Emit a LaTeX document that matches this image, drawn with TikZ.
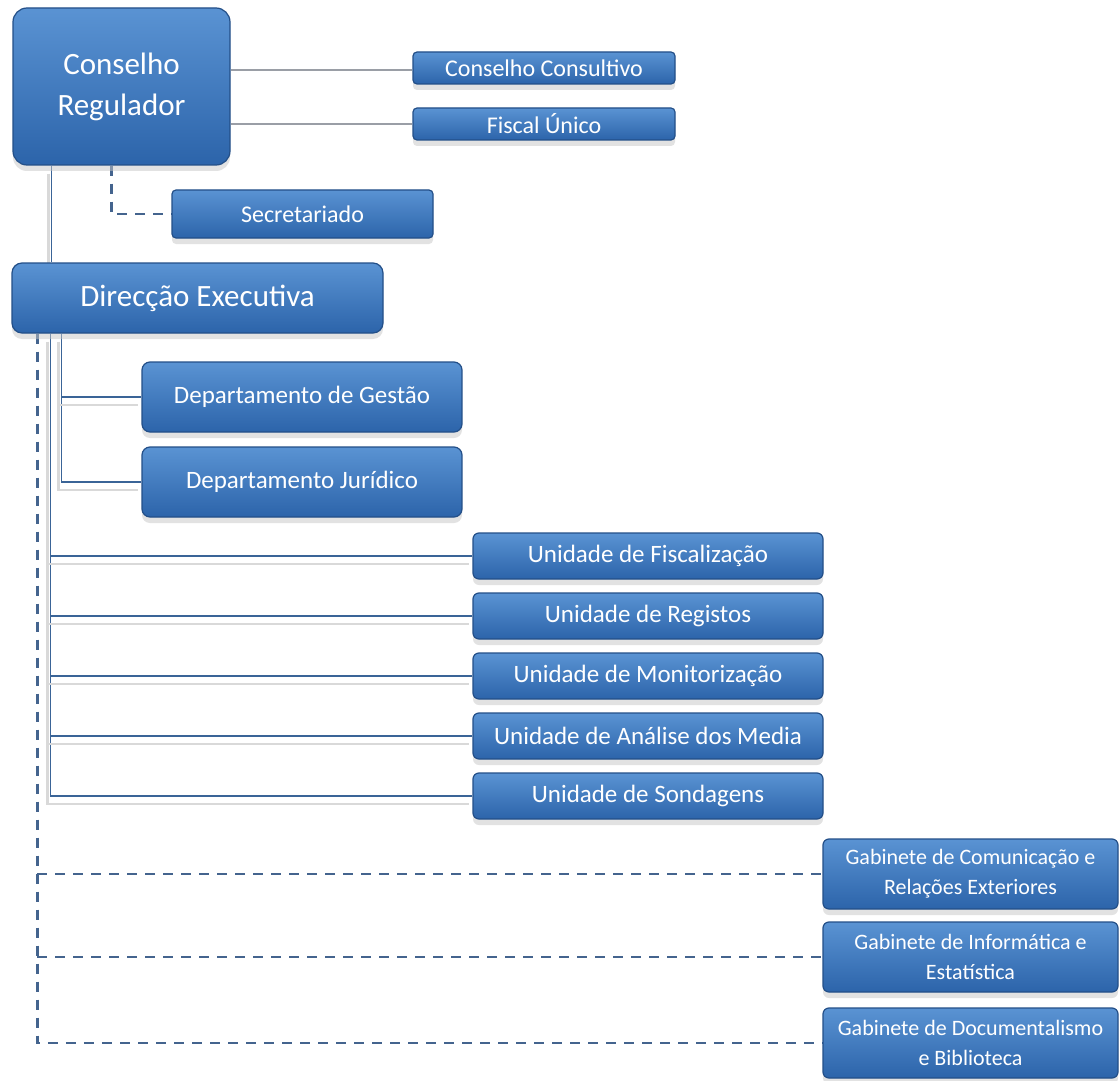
\documentclass[tikz,border=0pt]{standalone}
\usepackage{fontspec}
\setmainfont{Carlito}
\usetikzlibrary{calc,shadows,backgrounds}
\definecolor{boxtop}{HTML}{5A93D3}
\definecolor{boxbot}{HTML}{2C64AA}
\definecolor{boxedge}{HTML}{234F88}
\definecolor{linkblue}{HTML}{3A6497}
\definecolor{dashblue}{HTML}{44648E}
\definecolor{faint}{HTML}{9A9EA6}

\begin{document}
\begin{tikzpicture}[x=0.5pt,y=-0.5pt,
  orgbox/.style={rounded corners=2pt,top color=boxtop,bottom color=boxbot,
    draw=boxedge,line width=0.6pt,text=white,inner sep=0pt,align=center,
    drop shadow={shadow xshift=0pt,shadow yshift=-3pt,fill=gray!45}},
  link/.style={draw=linkblue,line width=0.8pt,
    preaction={draw=gray!30,line width=1.2pt,transform canvas={shift={(-1.5pt,-4pt)}}}},
  thinlink/.style={draw=faint,line width=0.6pt},
  dashlink/.style={draw=dashblue,line width=1.2pt,dash pattern=on 5pt off 4pt}]
  \useasboundingbox (0,0) rectangle (1120,1081);

  % top level
  \node[orgbox,rounded corners=7pt,minimum width=108.5pt,minimum height=78.5pt,
        font=\fontsize{15.5}{20.5}\selectfont] (cr) at (121.5,86.5) {Conselho\\Regulador};
  \node[orgbox,minimum width=131pt,minimum height=16pt,font=\fontsize{12}{14}\selectfont]
       (cc) at (544,68) {Conselho Consultivo};
  \node[orgbox,minimum width=131pt,minimum height=16pt,font=\fontsize{12}{14}\selectfont]
       (fu) at (544,124) {Fiscal Único};
  \node[orgbox,minimum width=130.5pt,minimum height=24pt,font=\fontsize{12}{14}\selectfont]
       (sec) at (302.5,214) {Secretariado};
  \node[orgbox,rounded corners=5pt,minimum width=185.5pt,minimum height=35pt,
        font=\fontsize{15.5}{18}\selectfont] (de) at (197.5,298) {Direcção Executiva};

  % departamentos
  \node[orgbox,rounded corners=4pt,minimum width=160pt,minimum height=35pt,
        font=\fontsize{12.5}{15}\selectfont] (dg) at (302,397) {Departamento de Gestão};
  \node[orgbox,rounded corners=4pt,minimum width=160pt,minimum height=35pt,
        font=\fontsize{12.5}{15}\selectfont] (dj) at (302,482) {Departamento Jurídico};

  % unidades
  \foreach \nm/\y/\txt in {uf/556/Unidade de Fiscalização,ur/616/Unidade de Registos,
      um/676/Unidade de Monitorização,ua/736/Unidade de Análise dos Media,
      us/796/Unidade de Sondagens}{
    \node[orgbox,rounded corners=3pt,minimum width=175pt,minimum height=23pt,
          font=\fontsize{12.5}{15}\selectfont] (\nm) at (648,\y) {\txt};}

  % gabinetes
  \foreach \nm/\y/\txt in {gc/874/{Gabinete de Comunicação e\\Relações Exteriores},
      gi/957/{Gabinete de Informática e\\Estatística},
      gd/1043/{Gabinete de Documentalismo\\e Biblioteca}}{
    \node[orgbox,rounded corners=3pt,minimum width=147.5pt,minimum height=35pt,
          font=\fontsize{11}{15}\selectfont] (\nm) at (970.5,\y) {\txt};}

  \begin{scope}[on background layer]
    \fill[white] (0,0) rectangle (1120,1081);
    \draw[thinlink] (cr.east |- 0,70) -- (cc.west |- 0,70);
    \draw[thinlink] (cr.east |- fu.west) -- (fu.west);
    \draw[dashlink] ($(cr.south west)+(99,0)$) |- (sec.west);
    \draw[link] ($(cr.south west)+(39,0)$) coordinate (crdrop) -- (crdrop |- de.north);
    % direccao executiva branches
    \draw[link] ($(de.south west)+(50,0)$) coordinate (dtrunk) |- (dj.west);
    \draw[link] (dtrunk |- dg.west) -- (dg.west);
    \draw[link] ($(de.south west)+(39,0)$) coordinate (utrunk) |- (us.west);
    \foreach \u in {uf,ur,um,ua}{\draw[link] (utrunk |- \u.west) -- (\u.west);}
    \draw[dashlink] ($(de.south west)+(26,0)$) coordinate (gtrunk) |- (gd.west);
    \foreach \g in {gc,gi}{\draw[dashlink] (gtrunk |- \g.west) -- (\g.west);}
  \end{scope}
\end{tikzpicture}
\end{document}
